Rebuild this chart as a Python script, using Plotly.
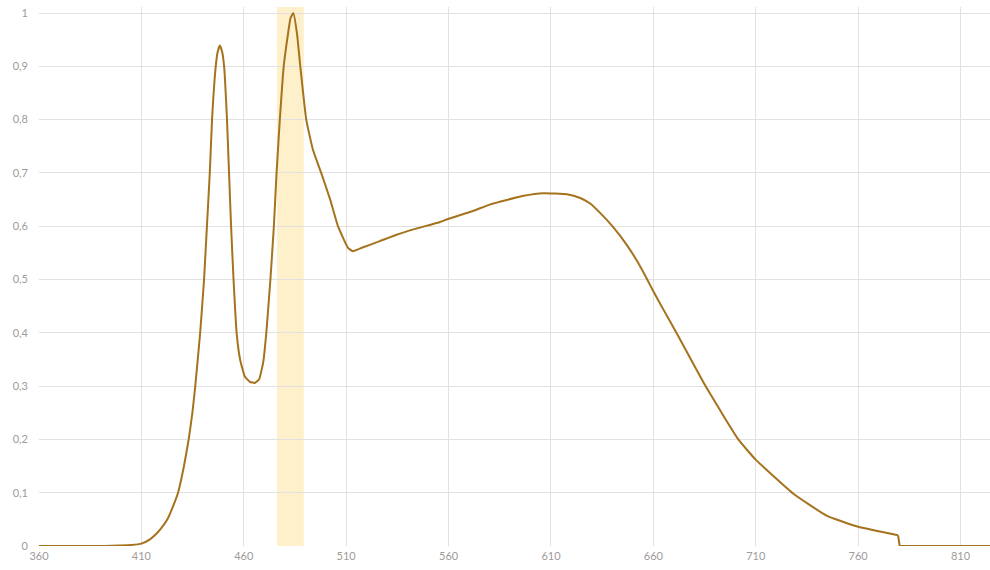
import plotly.graph_objects as go

wavelength = [360, 380, 392, 399, 405, 410, 414, 417.3, 420, 422.7, 425.5, 427.9, 430.8, 433.1, 434.9,
              436.3, 438.7, 440.6, 442, 443.4, 444.5, 446.3, 447.3, 448.3, 449.4, 450.4, 451.8,
              452.8, 453.8, 455, 456.5, 458.2, 460.5, 463, 465.4, 467.5, 469.5, 471, 473, 474.7, 476,
              477.6, 479.5, 481.6, 482.8, 484.2, 486, 487.6, 490.5, 493.8, 497.8, 502.2, 506, 510.8,
              513.2, 518, 526.4, 534.6, 542.8, 555.9, 560, 572.2, 580.4, 596.6, 606.4, 617.8, 624.3,
              629, 634, 640, 647, 652, 657, 660, 665, 672, 685.5, 701.5, 710, 728.4, 744.6, 760,
              779.5, 780.3, 800, 825]
intensity = [0, 0, 0, 0.001, 0.002, 0.0045, 0.012, 0.023, 0.035, 0.05, 0.075, 0.10, 0.15, 0.20, 0.25,
             0.30, 0.40, 0.50, 0.60, 0.70, 0.80, 0.90, 0.928, 0.939, 0.928, 0.90, 0.80,
             0.70, 0.60, 0.50, 0.40, 0.35, 0.318, 0.308, 0.306, 0.313, 0.345, 0.40, 0.50, 0.60, 0.70,
             0.80, 0.90, 0.961, 0.99, 1.0, 0.961, 0.90, 0.80, 0.743, 0.70, 0.65, 0.60, 0.56,
             0.553, 0.56, 0.572, 0.584, 0.594, 0.608, 0.614, 0.629, 0.641, 0.657, 0.662, 0.660, 0.653,
             0.643, 0.625, 0.60, 0.565, 0.535, 0.50, 0.478, 0.443, 0.395, 0.30, 0.20, 0.162, 0.098, 0.057, 0.036,
             0.020, 0, 0, 0]

band_start, band_end = 476.2, 489.3
x_ticks = [360, 410, 460, 510, 560, 610, 660, 710, 760, 810]
y_ticks = [0, 0.1, 0.2, 0.3, 0.4, 0.5, 0.6, 0.7, 0.8, 0.9, 1]

# split: smooth emission curve up to the cut-off, straight segments after it
cut = wavelength.index(779.5)
line_color = "#A5721E"

fig = go.Figure()
fig.add_trace(go.Scatter(x=wavelength[:cut + 1], y=intensity[:cut + 1], mode="lines",
                         line=dict(color=line_color, width=2, shape="spline", smoothing=0.4),
                         hoverinfo="skip", showlegend=False))
fig.add_trace(go.Scatter(x=wavelength[cut:], y=intensity[cut:], mode="lines",
                         line=dict(color=line_color, width=2, shape="linear"),
                         hoverinfo="skip", showlegend=False))

fig.add_shape(type="rect", xref="x", yref="paper", x0=band_start, x1=band_end, y0=0, y1=1.0,
              fillcolor="#FDF0CA", line=dict(width=0), layer="below")

fig.update_layout(
    width=990, height=570,
    margin=dict(l=39, r=0, t=7, b=24),
    paper_bgcolor="white", plot_bgcolor="white",
    separators=",.",
    font=dict(family="Lato, Open Sans, sans-serif", size=11, color="#A09A9A"),
    xaxis=dict(range=[360, 824.4], tickvals=x_ticks, showgrid=True, gridcolor="#E3E0E0",
               gridwidth=1, zeroline=False, showline=False, ticks="", ticklabelstandoff=2,
               automargin=False, ticklabeloverflow="allow"),
    yaxis=dict(range=[0, 1.0113], tickvals=y_ticks, showgrid=True, gridcolor="#E3E0E0", gridwidth=1,
               zeroline=False, showline=False, ticks="", ticklabelstandoff=10,
               automargin=False, ticklabeloverflow="allow"),
)

# remove the default page margin so the figure fills the window exactly
fig.write_html("out.html", config={"displayModeBar": False},
               post_script="document.body.style.margin='0';document.body.style.overflow='hidden';")
